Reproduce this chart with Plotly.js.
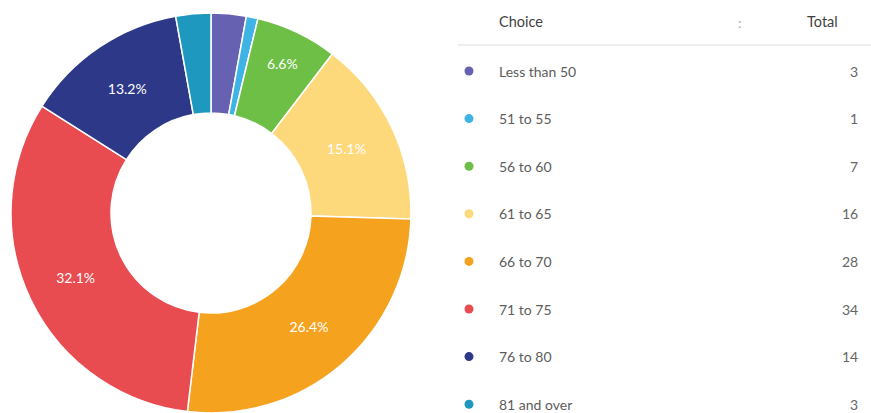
<!DOCTYPE html>
<html>
<head>
<meta charset="utf-8">
<script src="https://cdn.plot.ly/plotly-3.0.1.min.js"></script>
<style>
  html, body { margin: 0; padding: 0; background: #ffffff; }
  #chart { width: 871px; height: 413px; }
</style>
</head>
<body>
<div id="chart"></div>
<script>
// ---- Data ----
const choices = ["Less than 50", "51 to 55", "56 to 60", "61 to 65", "66 to 70", "71 to 75", "76 to 80", "81 and over"];
const totals = [3, 1, 7, 16, 28, 34, 14, 3];
const colors = ["#6661b0", "#3fb4e4", "#6dbf45", "#fdd97c", "#f5a31f", "#e84b50", "#2e3888", "#1e98bf"];
const headerChoice = "Choice";
const headerTotal = "Total";

// ---- Layout helpers (pixel-based coordinates) ----
const W = 871, H = 413;
const sum = totals.reduce((a, b) => a + b, 0);
const textTemplates = totals.map(v => (v / sum >= 0.05 ? "%{percent:.1%}" : ""));

const rowY0 = 71, rowStep = 47.6;
const rowYs = choices.map((_, i) => rowY0 + i * rowStep);

const pie = {
  type: "pie",
  labels: choices,
  values: totals,
  sort: false,
  direction: "clockwise",
  rotation: 0,
  hole: 0.5,
  marker: { colors: colors, line: { color: "#ffffff", width: 1.5 } },
  texttemplate: textTemplates,
  textposition: "inside",
  insidetextorientation: "horizontal",
  insidetextfont: { color: "#ffffff", size: 14, family: "Lato, sans-serif" },
  hoverinfo: "skip",
  domain: { x: [(211 - 200) / W, (211 + 200) / W], y: [0, 400 / H] },
  showlegend: false
};

const dots = {
  type: "scatter",
  mode: "markers",
  x: choices.map(() => 469),
  y: rowYs,
  marker: { color: colors, size: 9 },
  hoverinfo: "skip",
  xaxis: "x",
  yaxis: "y",
  showlegend: false
};

const annotations = [];
choices.forEach((c, i) => {
  annotations.push({
    xref: "x", yref: "y", x: 497, y: rowYs[i], text: c,
    xanchor: "left", yanchor: "middle", showarrow: false,
    font: { family: "Lato, sans-serif", size: 14, color: "#5c5c5c" }
  });
  annotations.push({
    xref: "x", yref: "y", x: 860, y: rowYs[i], text: String(totals[i]),
    xanchor: "right", yanchor: "middle", showarrow: false,
    font: { family: "Lato, sans-serif", size: 14, color: "#666666" }
  });
});
annotations.push({
  xref: "x", yref: "y", x: 497, y: 21, text: headerChoice,
  xanchor: "left", yanchor: "middle", showarrow: false,
  font: { family: "Lato, sans-serif", size: 14.5, color: "#3f3f3f" }
});
annotations.push({
  xref: "x", yref: "y", x: 840, y: 21, text: headerTotal,
  xanchor: "right", yanchor: "middle", showarrow: false,
  font: { family: "Lato, sans-serif", size: 14.5, color: "#3f3f3f" }
});
annotations.push({
  xref: "x", yref: "y", x: 740, y: 22, text: ":",
  xanchor: "center", yanchor: "middle", showarrow: false,
  font: { family: "Lato, sans-serif", size: 14, color: "#aaaaaa" }
});

const layout = {
  width: W, height: H,
  margin: { l: 0, r: 0, t: 0, b: 0 },
  paper_bgcolor: "#ffffff",
  plot_bgcolor: "rgba(0,0,0,0)",
  showlegend: false,
  xaxis: { domain: [450 / W, 1], range: [450, 871], visible: false, fixedrange: true },
  yaxis: { domain: [0, 1], range: [413, 0], visible: false, fixedrange: true },
  shapes: [{
    type: "line", xref: "x", yref: "y", x0: 458, x1: 871, y0: 45, y1: 45,
    line: { color: "#eeeeee", width: 2 }
  }],
  annotations: annotations
};

Plotly.newPlot("chart", [pie, dots], layout, { staticPlot: true, displayModeBar: false });
</script>
</body>
</html>
